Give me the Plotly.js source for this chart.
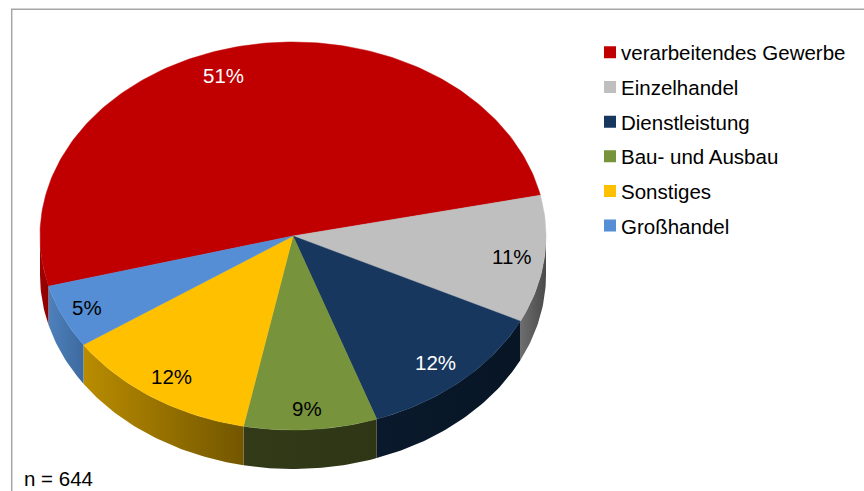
<!DOCTYPE html>
<html>
<head>
<meta charset="utf-8">
<script src="https://cdn.plot.ly/plotly-3.0.1.min.js"></script>
<style>html,body{margin:0;padding:0;background:#fff}#chart{width:864px;height:491px}</style>
</head>
<body>
<div id="chart"></div>
<script>
// Data
var categories = ['verarbeitendes Gewerbe','Einzelhandel','Dienstleistung','Bau- und Ausbau','Sonstiges','Großhandel'];
var shares = [50.8, 10.6, 12.4, 8.5, 12.4, 5.3];
var sampleNote = 'n = 644';

// Style
var topColors = ['#C00000','#BFBFBF','#17375E','#77933C','#FFC000','#558ED5'];
var wallColors = [
  ['#a00000','#8c0000'],['#6e6e6e','#4a4a4a'],['#0a1a2c','#071525'],
  ['#333a18','#2f3616'],['#b98c00','#735600'],['#4e80bb','#3d6a9f']
];
var labelColors = ['#ffffff','#000000','#ffffff','#000000','#000000','#000000'];
var labelNudge = [[-17,5],[-2,0],[-5,-1],[-2,2],[2,-2],[-3,1]];
var W = 864, H = 491, CX = 293, CY = 236, RX = 253, RY = 194, DEPTH = 39;
var firstAngle = 195;
var FONT = 'Liberation Sans, Arial, sans-serif';
var FONT_SIZE = 20.5;

function rad(d){ return d*Math.PI/180; }
function arc(hi, lo, drop){
  var n = Math.max(2, Math.ceil(Math.abs(hi-lo))), xs = [], ys = [];
  for (var i=0;i<=n;i++){
    var t = rad(hi + (lo-hi)*i/n);
    xs.push(Math.cos(t)); ys.push(Math.sin(t)-drop);
  }
  return {x:xs, y:ys};
}

var total = shares.reduce(function(a,b){return a+b;},0);
var drop = DEPTH/RY;
var traces = [], tops = [], annotations = [];
var angle = firstAngle;

shares.forEach(function(v,i){
  var hi = angle, lo = angle - v/total*360; angle = lo;

  // visible front wall of the slice
  [0,-360].forEach(function(shift){
    var a = Math.min(hi+shift, 0), b = Math.max(lo+shift, -180);
    if (a <= b) return;
    var upper = arc(a,b,0), lower = arc(b,a,drop);
    traces.push({
      type:'scatter', mode:'lines', showlegend:false, hoverinfo:'skip',
      x: upper.x.concat(lower.x), y: upper.y.concat(lower.y),
      fill:'toself', line:{width:0, color:wallColors[i][0]},
      fillgradient:{type:'horizontal', colorscale:[[0,wallColors[i][0]],[1,wallColors[i][1]]]}
    });
  });

  // top face of the slice
  var face = arc(hi,lo,0);
  tops.push({
    type:'scatter', mode:'lines', showlegend:false, name:categories[i],
    x:[0].concat(face.x,[0]), y:[0].concat(face.y,[0]),
    fill:'toself', fillcolor:topColors[i], line:{width:0.5, color:topColors[i]},
    hoverinfo:'name'
  });

  var mid = rad((hi+lo)/2);
  annotations.push({
    xref:'x', yref:'y', x:0.88*Math.cos(mid), y:0.88*Math.sin(mid),
    xshift:labelNudge[i][0], yshift:-labelNudge[i][1],
    text:Math.round(v)+'%', showarrow:false,
    font:{family:FONT, size:FONT_SIZE, color:labelColors[i]}
  });
});

// Legend entries
var legendTraces = categories.map(function(c,i){
  return {
    type:'scatter', mode:'markers', x:[null], y:[null], name:c,
    legendgroup:'g'+i, showlegend:true,
    marker:{symbol:'square', size:12, color:topColors[i]}
  };
});

annotations.push({
  xref:'paper', yref:'paper', x:22/W, y:1-478/H, xanchor:'left', yanchor:'middle',
  text:sampleNote, showarrow:false, font:{family:FONT, size:FONT_SIZE, color:'#000'}
});

var BORDER = {color:'#a6a6a6', width:1.5};
var layout = {
  width:W, height:H, margin:{l:0,r:0,t:0,b:0},
  paper_bgcolor:'#fff', plot_bgcolor:'#fff', showlegend:true,
  xaxis:{visible:false, range:[-CX/RX,(W-CX)/RX], fixedrange:true},
  yaxis:{visible:false, range:[-(H-CY)/RY,CY/RY], fixedrange:true},
  annotations:annotations,
  shapes:[
    {type:'line', xref:'paper', yref:'paper', x0:11.7/W, x1:11.7/W, y0:0, y1:1-9.3/H, line:BORDER},
    {type:'line', xref:'paper', yref:'paper', x0:11/W, x1:1, y0:1-9.3/H, y1:1-9.3/H, line:BORDER}
  ],
  legend:{
    x:581/W, y:1-32.5/H, xanchor:'left', yanchor:'top', traceorder:'grouped', tracegroupgap:5,
    bgcolor:'rgba(0,0,0,0)', font:{family:FONT, size:FONT_SIZE, color:'#000'}
  }
};

var gd = document.getElementById('chart');
Plotly.newPlot(gd, traces.concat(tops, legendTraces), layout, {staticPlot:true, displayModeBar:false}).then(function(){
  // bring the swatches next to their labels, as in the reference
  gd.querySelectorAll('.legend .legendsymbols').forEach(function(s){
    s.setAttribute('transform','translate(9,0)');
  });
});
</script>
</body>
</html>
